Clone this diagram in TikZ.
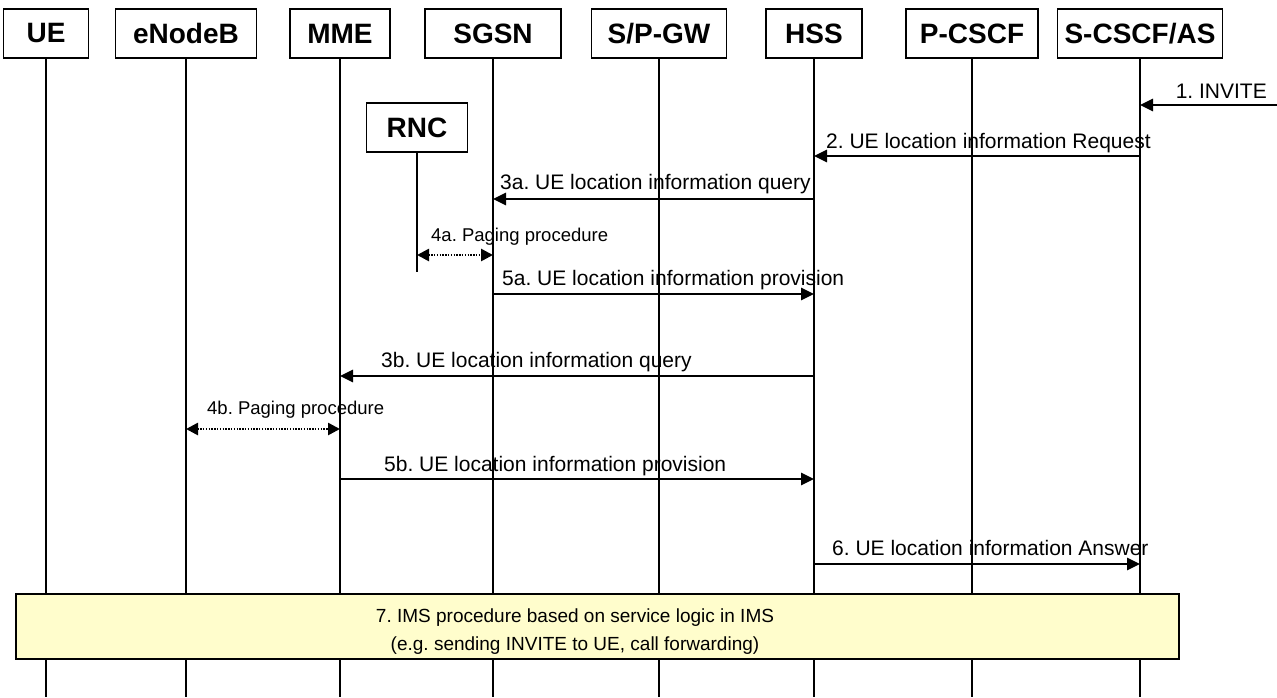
\documentclass[tikz,border=0pt]{standalone}
\usepackage{fontspec}
\setmainfont{Liberation Sans}
\usetikzlibrary{arrows.meta}
\definecolor{boxyellow}{RGB}{255,253,204}
\frenchspacing
\begin{document}
\begin{tikzpicture}[x=1pt,y=-1pt,
  entity/.style={draw, line width=1.2pt, minimum height=49pt, inner sep=0pt,
    font=\fontsize{28}{30}\selectfont\bfseries},
  lifeline/.style={line width=1.3pt},
  msg/.style={line width=2.6pt, -{Triangle[length=13pt,width=12pt]}},
  paging/.style={line width=2.6pt, dash pattern=on 1.4pt off 1.4pt,
    {Triangle[length=12pt,width=12pt]}-{Triangle[length=12pt,width=12pt]}},
  lbl/.style={font=\fontsize{21}{24}\selectfont, anchor=base west, inner sep=0pt},
  slbl/.style={font=\fontsize{18.5}{21}\selectfont, anchor=base west, inner sep=0pt}]

\path[use as bounding box, fill=white] (0,0) rectangle (1277,697);

% entities along the top
\node[entity, minimum width=85pt]  (ue)    at (46,33.5)   {UE};
\node[entity, minimum width=141pt] (enb)   at (186,33.5)  {eNodeB};
\node[entity, minimum width=100pt] (mme)   at (340,33.5)  {MME};
\node[entity, minimum width=136pt] (sgsn)  at (493,33.5)  {SGSN};
\node[entity, minimum width=135pt] (spgw)  at (659,33.5)  {S/P-GW};
\node[entity, minimum width=96pt]  (hss)   at (814,33.5)  {HSS};
\node[entity, minimum width=132pt] (pcscf) at (972,33.5)  {P-CSCF};
\node[entity, minimum width=165pt] (scscf) at (1140,33.5) {S-CSCF/AS};
\node[entity, minimum width=101pt] (rnc)   at (417,127.5) {RNC};

% lifelines
\coordinate (bottom) at (0,697);
\foreach \n in {ue,enb,mme,sgsn,spgw,hss,pcscf,scscf}
  \draw[lifeline] (\n.south) -- (\n.south |- bottom);
\coordinate (rncend) at (0,272);
\draw[lifeline] (rnc.south) -- (rnc.south |- rncend);

% message rows
\coordinate (m1)  at (1277,105);
\coordinate (m2)  at (0,156);
\coordinate (m3a) at (0,199);
\coordinate (m4a) at (0,255);
\coordinate (m5a) at (0,294);
\coordinate (m3b) at (0,376);
\coordinate (m4b) at (0,429);
\coordinate (m5b) at (0,479);
\coordinate (m6)  at (0,564);

\draw[msg] (m1) -- (scscf |- m1);
\node[lbl, anchor=base east] (t1) at (1267,98) {1. INVITE};

\draw[msg] (scscf |- m2) -- (hss |- m2);
\node[lbl] (t2) at (826,148) {2. UE location information Request};

\draw[msg] (hss |- m3a) -- (sgsn |- m3a);
\node[lbl] (t3a) at (500,189) {3a. UE location information query};

\draw[paging] (rnc |- m4a) -- (sgsn |- m4a);
\node[slbl] (t4a) at (431,241) {4a. Paging procedure};

\draw[msg] (sgsn |- m5a) -- (hss |- m5a);
\node[lbl] (t5a) at (502,285) {5a. UE location information provision};

\draw[msg] (hss |- m3b) -- (mme |- m3b);
\node[lbl] (t3b) at (381,367) {3b. UE location information query};

\draw[paging] (enb |- m4b) -- (mme |- m4b);
\node[slbl] (t4b) at (207,414) {4b. Paging procedure};

\draw[msg] (mme |- m5b) -- (hss |- m5b);
\node[lbl] (t5b) at (384,471) {5b. UE location information provision};

\draw[msg] (hss |- m6) -- (scscf |- m6);
\node[lbl] (t6) at (832,555) {6. UE location information Answer};

% IMS procedure box over the lifelines
\node[draw, fill=boxyellow, line width=1.2pt, minimum width=1163pt,
  minimum height=65pt, inner sep=0pt] (ims) at (597.5,626.5) {};
\node[align=center, inner sep=0pt, font=\fontsize{19}{28}\selectfont] (imstext)
  at (575,632) {7. IMS procedure based on service logic in IMS\\(e.g. sending INVITE to UE, call forwarding)};
\end{tikzpicture}
\end{document}
